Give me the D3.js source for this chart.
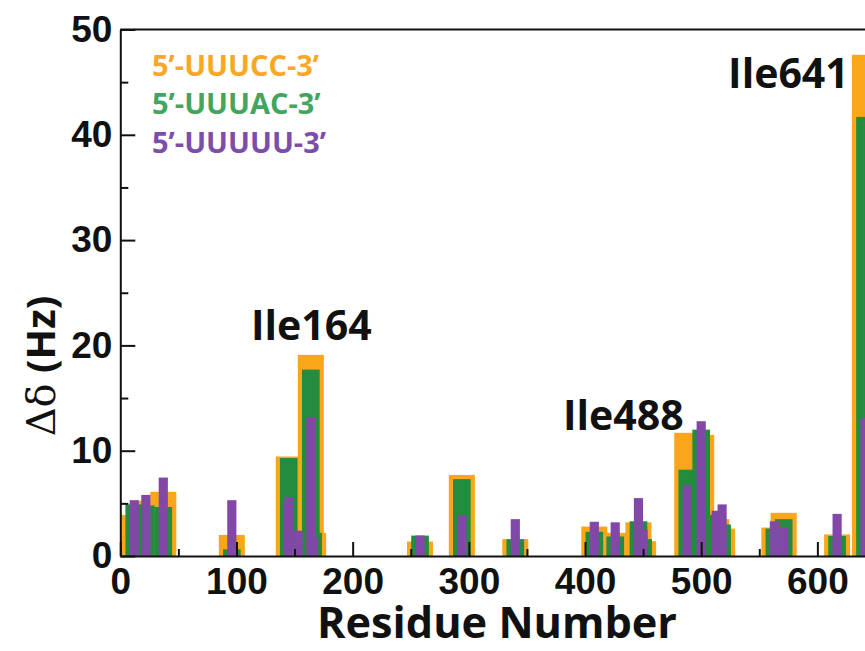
<!DOCTYPE html>
<html>
<head>
<meta charset="utf-8">
<script src="https://cdn.jsdelivr.net/npm/d3@7"></script>
<style>
  body { margin: 0; background: #fff; }
  svg { display: block; font-family: "Open Sans", sans-serif; }
  .axis text { font-weight: 700; font-size: 37px; fill: #111; }
  .axis line, .axis path { stroke: #111; stroke-width: 2; }
</style>
</head>
<body>
<svg id="chart" width="865" height="651"></svg>
<script>
// residue numbers and chemical shift differences (Hz) per RNA
var residues = [12, 22, 37, 96, 145, 153, 164, 166, 258, 294, 340, 408, 426, 446, 450, 488, 500, 513, 518, 563, 571, 617, 641];
var uuucc    = [3.9, 5.25, 6.1, 2.0, 9.45, 2.0, 19.1, 2.2, 1.37, 7.7, 1.6, 2.8, 2.2, 3.2, 1.4, 11.7, 11.5, 3.5, 2.6, 2.7, 4.1, 2.05, 47.6];
var uuuac    = [4.9, 4.8, 4.65, 0.64, 9.3, 2.0, 17.7, 2.2, 1.94, 7.3, 1.6, 2.3, 1.85, 3.3, 1.6, 8.2, 12.0, 3.9, 3.0, 2.6, 3.5, 1.9, 41.7];
var uuuuu    = [5.3, 5.8, 7.45, 5.3, 5.6, 2.4, 13.2, 1.8, 1.94, 3.9, 3.5, 3.25, 3.2, 5.5, 2.5, 6.7, 12.8, 4.3, 4.9, 3.3, 2.7, 4.0, 13.1];

var seriesNames  = ["5\u2019-UUUCC-3\u2019", "5\u2019-UUUAC-3\u2019", "5\u2019-UUUUU-3\u2019"];
var seriesValues = [uuucc, uuuac, uuuuu];
var barColors    = ["#FAA61A", "#238C3E", "#8148A8"];
var textColors   = ["#F9A826", "#43A55E", "#7C4DA9"];
var barWidths    = [22.4, 15.2, 7.9];   // in residue units

var xMajor = [0, 100, 200, 300, 400, 500, 600];
var xMinor = [50, 150, 250, 350, 450, 550];
var yMajor = [0, 10, 20, 30, 40, 50];
var yMinor = [5, 15, 25, 35, 45];

var annotations = [
    {label: "Ile164", r: 164.4, v: 20.5, anchor: "middle"},
    {label: "Ile488", r: 433,   v: 12.0, anchor: "middle"},
    {label: "Ile641", r: 627,   v: 44.4, anchor: "end"}
];

var svg = d3.select("#chart");

var x = d3.scaleLinear().domain([0, 641]).range([120.3, 865]);
var y = d3.scaleLinear().domain([0, 50]).range([556, 29.5]);

// bars: all orange, then green, then purple on top
seriesValues.forEach(function(vals, s) {
    svg.append("g")
        .selectAll("rect")
        .data(residues)
        .enter().append("rect")
            .attr("x",      function(d) { return x(d - barWidths[s]/2); })
            .attr("width",  function(d) { return x(d + barWidths[s]/2) - x(d - barWidths[s]/2); })
            .attr("y",      function(d,i) { return y(vals[i]); })
            .attr("height", function(d,i) { return y(0) - y(vals[i]); })
            .attr("fill",   barColors[s]);
});

// axes
svg.append("g")
    .attr("class", "axis")
    .attr("transform", "translate(0," + y(0) + ")")
    .call(d3.axisBottom(x).tickValues(xMajor).tickSize(-14).tickSizeOuter(0).tickPadding(12).tickFormat(d3.format("d")));
svg.append("g")
    .attr("class", "axis")
    .attr("transform", "translate(0," + y(0) + ")")
    .call(d3.axisBottom(x).tickValues(xMinor).tickSize(-7).tickSizeOuter(0).tickFormat(""))
    .select(".domain").remove();

svg.append("g")
    .attr("class", "axis")
    .attr("transform", "translate(" + x(0) + ",0)")
    .call(d3.axisLeft(y).tickValues(yMajor).tickSize(-15).tickSizeOuter(0).tickPadding(8));
svg.append("g")
    .attr("class", "axis")
    .attr("transform", "translate(" + x(0) + ",0)")
    .call(d3.axisLeft(y).tickValues(yMinor).tickSize(-8).tickSizeOuter(0).tickFormat(""))
    .select(".domain").remove();

// top frame line
svg.append("line")
    .attr("x1", x(0)).attr("x2", 865)
    .attr("y1", y(50)).attr("y2", y(50))
    .attr("stroke", "#111").attr("stroke-width", 2);

// legend
svg.append("g").selectAll("text")
    .data(seriesNames)
    .enter().append("text")
        .attr("x", 152)
        .attr("y", function(d,i) { return 75.5 + 38.5*i; })
        .attr("fill", function(d,i) { return textColors[i]; })
        .style("font-weight", 700)
        .style("font-size", "29px")
        .text(function(d) { return d; });

// residue labels
svg.append("g").selectAll("text")
    .data(annotations)
    .enter().append("text")
        .attr("x", function(d) { return x(d.r); })
        .attr("y", function(d) { return y(d.v); })
        .attr("text-anchor", function(d) { return d.anchor; })
        .style("font-weight", 700)
        .style("font-size", "41px")
        .attr("fill", "#111")
        .text(function(d) { return d.label; });

// axis titles
svg.append("text")
    .attr("x", 497)
    .attr("y", 638)
    .attr("text-anchor", "middle")
    .attr("textLength", 360)
    .attr("lengthAdjust", "spacingAndGlyphs")
    .style("font-weight", 700)
    .style("font-size", "43px")
    .attr("fill", "#111")
    .text("Residue Number");

var ylab = svg.append("text")
    .attr("transform", "translate(55,366) rotate(-90)")
    .attr("text-anchor", "middle")
    .style("font-size", "40px")
    .attr("fill", "#111");
ylab.append("tspan").style("font-family", "'DejaVu Serif', serif").text("\u0394\u03b4");
ylab.append("tspan").style("font-weight", 700).text(" (Hz)");
</script>
</body>
</html>
